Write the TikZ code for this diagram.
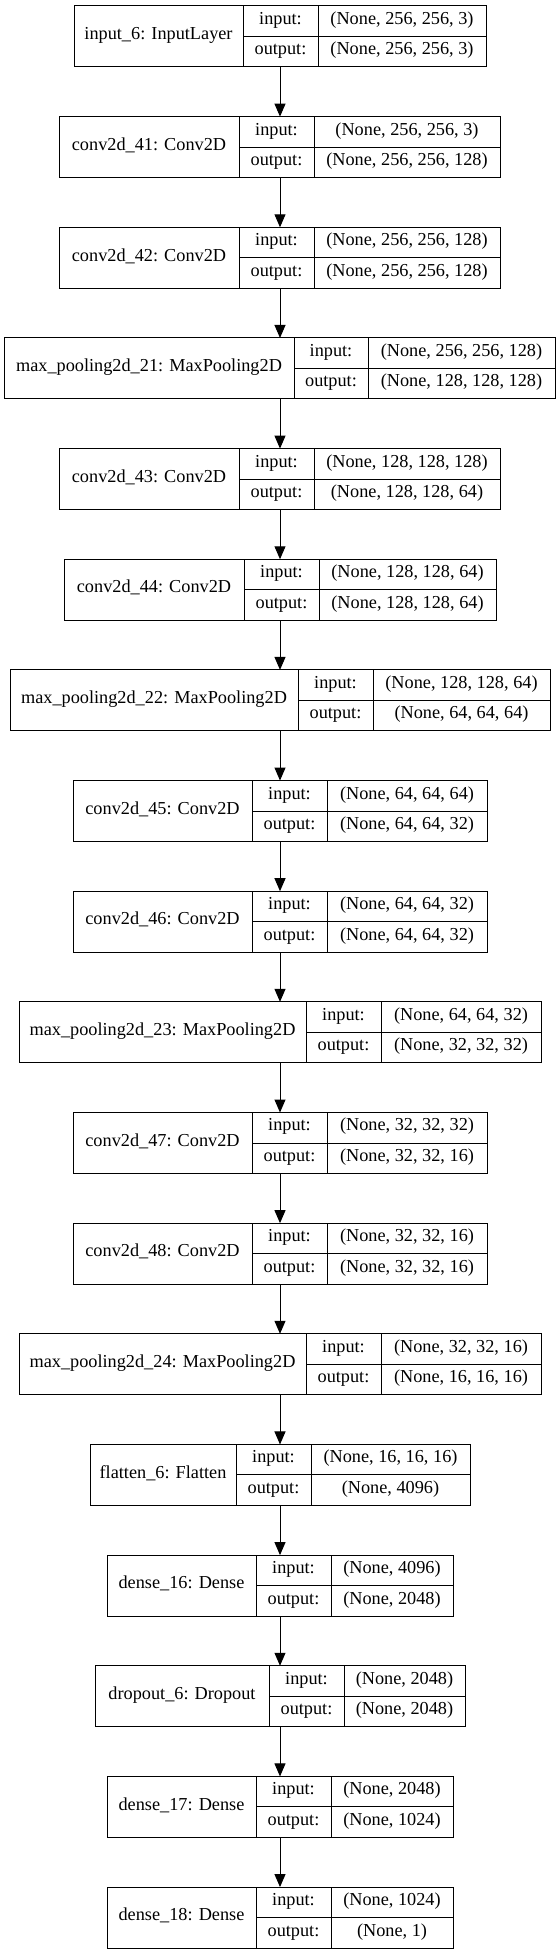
\documentclass[tikz,border=0pt]{standalone}
\usepackage{fontspec}
\setmainfont{Liberation Serif}
\usetikzlibrary{arrows.meta}
\tikzset{
  layerbox/.style={draw=black, line width=0.75pt, inner sep=0pt, outer sep=0pt, fill=white},
  txt/.style={inner sep=0pt, text height=0.72em, text depth=0.24em, font=\fontsize{13.7}{16}\selectfont},
  divline/.style={draw=black, line width=0.75pt},
  arr/.style={draw=black, line width=0.75pt, -{Triangle[length=9.75pt, width=8.25pt]}}
}
% #1 id, #2 top, #3 left, #4 div1, #5 div2, #6 right, #7 title, #8 input, #9 output
\newcommand{\mklayer}[9]{%
  \node[layerbox, minimum width={(#6-#3)*0.75pt}, minimum height={61*0.75pt}] (#1) at (280,{#2+30.5}) {};
  \draw[divline] (#4,#2) -- (#4,{#2+61});
  \draw[divline] (#5,#2) -- (#5,{#2+61});
  \draw[divline] (#4,{#2+30.5}) -- (#6,{#2+30.5});
  \node[txt] (#1t) at ({(#3+#4)/2},{#2+30.5}) {#7};
  \node[txt] (#1a) at ({(#4+#5)/2},{#2+15.25}) {input:};
  \node[txt] (#1b) at ({(#4+#5)/2},{#2+45.75}) {output:};
  \node[txt] (#1c) at ({(#5+#6)/2},{#2+15.25}) {#8};
  \node[txt] (#1d) at ({(#5+#6)/2},{#2+45.75}) {#9};
}
\begin{document}
\begin{tikzpicture}[x=0.75pt, y=-0.75pt]
\useasboundingbox[fill=white] (0,0) rectangle (557,1955);
\mklayer{L1}{6}{74}{243}{318}{486}{input\_6: InputLayer}{(None, 256, 256, 3)}{(None, 256, 256, 3)}
\mklayer{L2}{116.65}{59}{239}{314}{500}{conv2d\_41: Conv2D}{(None, 256, 256, 3)}{(None, 256, 256, 128)}
\mklayer{L3}{227.3}{59}{239}{314}{500}{conv2d\_42: Conv2D}{(None, 256, 256, 128)}{(None, 256, 256, 128)}
\mklayer{L4}{337.95}{4}{294}{368}{555}{max\_pooling2d\_21: MaxPooling2D}{(None, 256, 256, 128)}{(None, 128, 128, 128)}
\mklayer{L5}{448.6}{59}{239}{314}{500}{conv2d\_43: Conv2D}{(None, 128, 128, 128)}{(None, 128, 128, 64)}
\mklayer{L6}{559.25}{64}{244}{319}{496}{conv2d\_44: Conv2D}{(None, 128, 128, 64)}{(None, 128, 128, 64)}
\mklayer{L7}{669.9}{10}{298}{373}{550}{max\_pooling2d\_22: MaxPooling2D}{(None, 128, 128, 64)}{(None, 64, 64, 64)}
\mklayer{L8}{780.55}{73}{252}{327}{487}{conv2d\_45: Conv2D}{(None, 64, 64, 64)}{(None, 64, 64, 32)}
\mklayer{L9}{891.2}{73}{252}{327}{487}{conv2d\_46: Conv2D}{(None, 64, 64, 32)}{(None, 64, 64, 32)}
\mklayer{L10}{1001.85}{19}{306}{381}{541}{max\_pooling2d\_23: MaxPooling2D}{(None, 64, 64, 32)}{(None, 32, 32, 32)}
\mklayer{L11}{1112.5}{73}{252}{327}{487}{conv2d\_47: Conv2D}{(None, 32, 32, 32)}{(None, 32, 32, 16)}
\mklayer{L12}{1223.15}{73}{252}{327}{487}{conv2d\_48: Conv2D}{(None, 32, 32, 16)}{(None, 32, 32, 16)}
\mklayer{L13}{1333.8}{19}{306}{381}{541}{max\_pooling2d\_24: MaxPooling2D}{(None, 32, 32, 16)}{(None, 16, 16, 16)}
\mklayer{L14}{1444.45}{90}{236}{311}{470}{flatten\_6: Flatten}{(None, 16, 16, 16)}{(None, 4096)}
\mklayer{L15}{1555.1}{107}{256}{331}{453}{dense\_16: Dense}{(None, 4096)}{(None, 2048)}
\mklayer{L16}{1665.75}{95}{269}{344}{465}{dropout\_6: Dropout}{(None, 2048)}{(None, 2048)}
\mklayer{L17}{1776.4}{107}{256}{331}{453}{dense\_17: Dense}{(None, 2048)}{(None, 1024)}
\mklayer{L18}{1887.05}{107}{256}{331}{453}{dense\_18: Dense}{(None, 1024)}{(None, 1)}
\foreach \a/\b in {L1/L2,L2/L3,L3/L4,L4/L5,L5/L6,L6/L7,L7/L8,L8/L9,L9/L10,L10/L11,L11/L12,L12/L13,L13/L14,L14/L15,L15/L16,L16/L17,L17/L18}
  \draw[arr] (\a) -- (\b);
\end{tikzpicture}
\end{document}
